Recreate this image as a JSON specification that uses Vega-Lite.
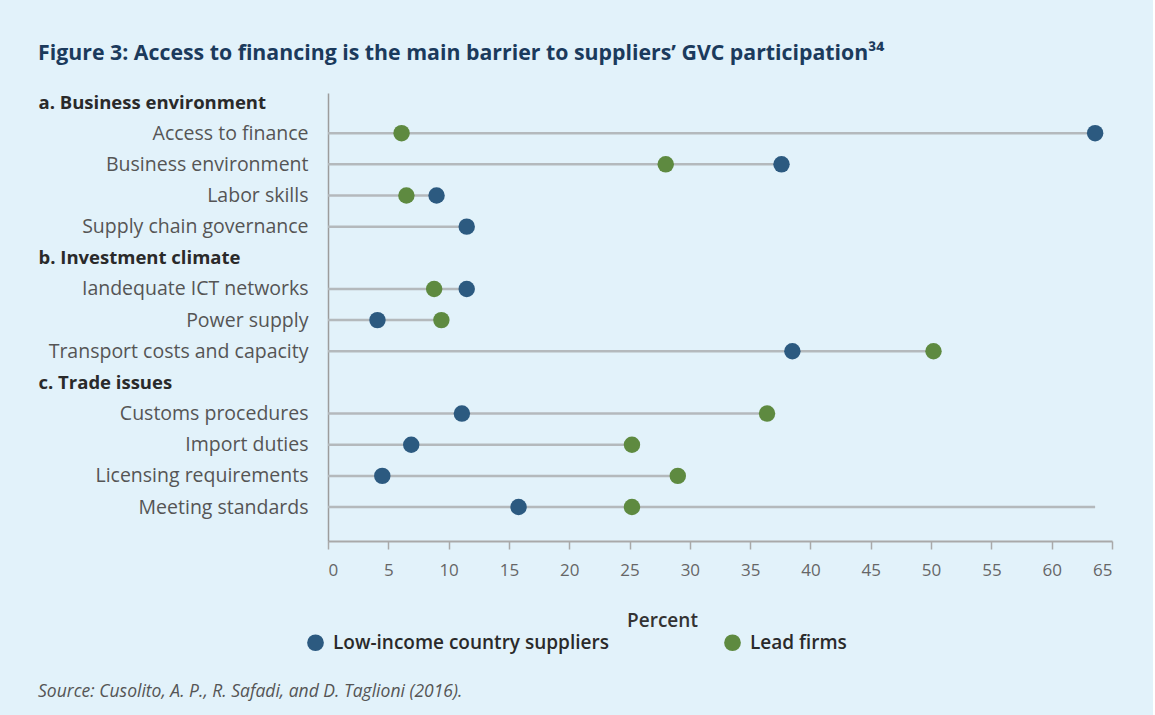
{
  "$schema": "https://vega.github.io/schema/vega-lite/v6.json",
  "background": "#e2f2fa",
  "padding": {"left": 38, "top": 42, "right": 40, "bottom": 15},
  "title": {
    "text": "Figure 3: Access to financing is the main barrier to suppliers’ GVC participation³⁴",
    "anchor": "start",
    "font": "Open Sans",
    "fontSize": 21.3,
    "fontWeight": "bold",
    "color": "#1b3a5c",
    "offset": 29
  },
  "config": {"view": {"stroke": null}, "font": "Open Sans"},
  "datasets": {
    "points": [
      {"category": "Access to finance", "group": "Low-income country suppliers", "value": 63.6},
      {"category": "Access to finance", "group": "Lead firms", "value": 6.1},
      {"category": "Business environment", "group": "Low-income country suppliers", "value": 37.6},
      {"category": "Business environment", "group": "Lead firms", "value": 28.0},
      {"category": "Labor skills", "group": "Low-income country suppliers", "value": 9.0},
      {"category": "Labor skills", "group": "Lead firms", "value": 6.5},
      {"category": "Supply chain governance", "group": "Low-income country suppliers", "value": 11.5},
      {"category": "Iandequate ICT networks", "group": "Low-income country suppliers", "value": 11.5},
      {"category": "Iandequate ICT networks", "group": "Lead firms", "value": 8.8},
      {"category": "Power supply", "group": "Low-income country suppliers", "value": 4.1},
      {"category": "Power supply", "group": "Lead firms", "value": 9.4},
      {"category": "Transport costs and capacity", "group": "Low-income country suppliers", "value": 38.5},
      {"category": "Transport costs and capacity", "group": "Lead firms", "value": 50.2},
      {"category": "Customs procedures", "group": "Low-income country suppliers", "value": 11.1},
      {"category": "Customs procedures", "group": "Lead firms", "value": 36.4},
      {"category": "Import duties", "group": "Low-income country suppliers", "value": 6.9},
      {"category": "Import duties", "group": "Lead firms", "value": 25.2},
      {"category": "Licensing requirements", "group": "Low-income country suppliers", "value": 4.5},
      {"category": "Licensing requirements", "group": "Lead firms", "value": 29.0},
      {"category": "Meeting standards", "group": "Low-income country suppliers", "value": 15.8},
      {"category": "Meeting standards", "group": "Lead firms", "value": 25.2}
    ],
    "rules": [
      {"category": "Access to finance", "end": 63.6},
      {"category": "Business environment", "end": 37.6},
      {"category": "Labor skills", "end": 9.0},
      {"category": "Supply chain governance", "end": 11.5},
      {"category": "Iandequate ICT networks", "end": 11.5},
      {"category": "Power supply", "end": 9.4},
      {"category": "Transport costs and capacity", "end": 50.2},
      {"category": "Customs procedures", "end": 36.4},
      {"category": "Import duties", "end": 25.2},
      {"category": "Licensing requirements", "end": 29.0},
      {"category": "Meeting standards", "end": 63.6}
    ]
  },
  "vconcat": [
    {
      "width": 784,
      "height": 448,
      "title": {
        "text": "Source: Cusolito, A. P., R. Safadi, and D. Taglioni (2016).",
        "orient": "bottom",
        "anchor": "start",
        "font": "Open Sans",
        "fontStyle": "italic",
        "fontWeight": "normal",
        "fontSize": 17.5,
        "color": "#555555",
        "offset": 53
      },
      "layer": [
        {
          "data": {"name": "rules"},
          "mark": {"type": "rule", "color": "#b4b9bc", "strokeWidth": 2.5},
          "encoding": {
            "y": {
              "field": "category",
              "type": "ordinal",
              "scale": {
                "type": "point",
                "domain": ["a. Business environment", "Access to finance", "Business environment", "Labor skills", "Supply chain governance", "b. Investment climate", "Iandequate ICT networks", "Power supply", "Transport costs and capacity", "c. Trade issues", "Customs procedures", "Import duties", "Licensing requirements", "Meeting standards"],
                "padding": 0.69,
                "align": 0.21
              },
              "axis": {
                "title": null,
                "ticks": false,
                "grid": false,
                "domain": true,
                "domainColor": "#9c9c9c",
                "domainWidth": 1.5,
                "labelFont": "Open Sans",
                "labelLimit": 400,
                "labelFontSize": {"condition": {"test": "indexof(datum.value, '. ') == 1", "value": 18.5}, "value": 19.5},
                "labelColor": {"condition": {"test": "indexof(datum.value, '. ') == 1", "value": "#2a2a2a"}, "value": "#555555"},
                "labelFontWeight": {"condition": {"test": "indexof(datum.value, '. ') == 1", "value": "bold"}, "value": "normal"},
                "labelAlign": {"condition": {"test": "indexof(datum.value, '. ') == 1", "value": "left"}, "value": "right"},
                "labelPadding": {"condition": {"test": "indexof(datum.value, '. ') == 1", "value": 290}, "value": 20}
              }
            },
            "x": {
              "field": "end",
              "type": "quantitative",
              "scale": {"domain": [0, 65], "nice": false},
              "axis": {
                "values": [0, 5, 10, 15, 20, 25, 30, 35, 40, 45, 50, 55, 60, 65],
                "grid": false,
                "domainColor": "#a9a9a9",
                "domainWidth": 2,
                "tickColor": "#a9a9a9",
                "tickSize": 8,
                "tickWidth": 1.5,
                "labelFont": "Open Sans",
                "labelFontSize": 17,
                "labelColor": "#666666",
                "labelPadding": 13,
                "title": "Percent",
                "titleFont": "Open Sans",
                "titleFontSize": 19,
                "titleFontWeight": 600,
                "titleColor": "#333333",
                "titleX": 334,
                "titleAlign": "center",
                "titlePadding": 33
              }
            },
            "x2": {"datum": 0}
          }
        },
        {
          "data": {"name": "points"},
          "mark": {"type": "circle", "size": 270, "opacity": 1},
          "encoding": {
            "y": {"field": "category", "type": "ordinal"},
            "x": {"field": "value", "type": "quantitative"},
            "color": {
              "field": "group",
              "type": "nominal",
              "scale": {"domain": ["Low-income country suppliers", "Lead firms"], "range": ["#2c5a80", "#5e8a40"]},
              "legend": {
                "orient": "none",
                "direction": "horizontal",
                "legendX": -22,
                "legendY": 540,
                "title": null,
                "labelFont": "Open Sans",
                "labelFontSize": 19,
                "labelFontWeight": 600,
                "labelColor": "#2a2a2a",
                "labelLimit": 400,
                "symbolType": "circle",
                "symbolSize": 280,
                "symbolStrokeWidth": 0,
                "symbolOpacity": 1,
                "labelOffset": 8,
                "columnPadding": 114
              }
            }
          }
        }
      ]
    }
  ]
}
